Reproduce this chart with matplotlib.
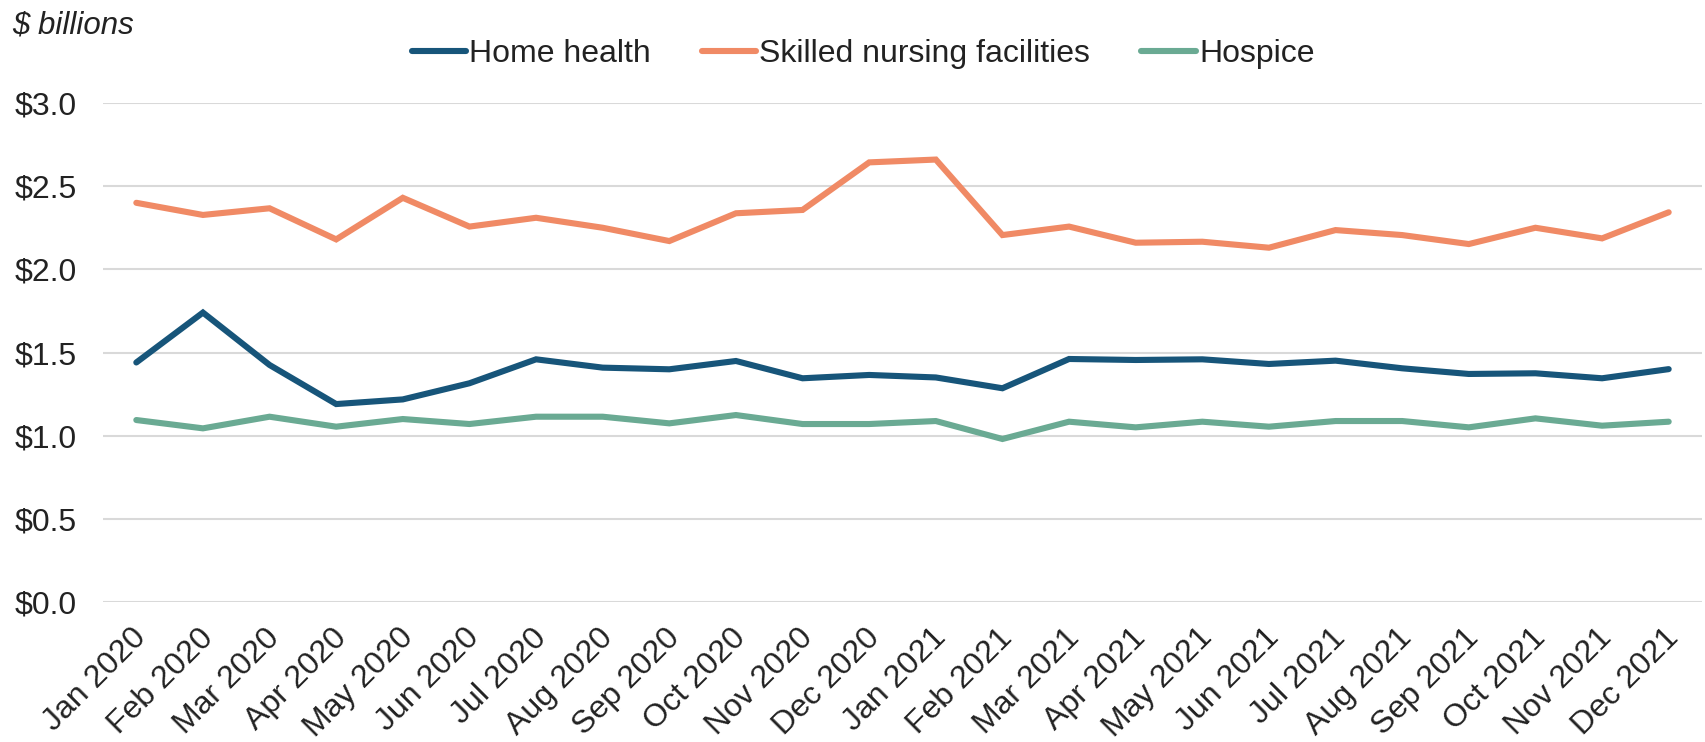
import matplotlib
matplotlib.use("Agg")
import matplotlib.pyplot as plt
from matplotlib.transforms import ScaledTranslation

plt.rcParams['font.family'] = ['Liberation Sans', 'DejaVu Sans']

months = ["Jan 2020", "Feb 2020", "Mar 2020", "Apr 2020", "May 2020", "Jun 2020",
          "Jul 2020", "Aug 2020", "Sep 2020", "Oct 2020", "Nov 2020", "Dec 2020",
          "Jan 2021", "Feb 2021", "Mar 2021", "Apr 2021", "May 2021", "Jun 2021",
          "Jul 2021", "Aug 2021", "Sep 2021", "Oct 2021", "Nov 2021", "Dec 2021"]

home_health = [1.44, 1.74, 1.425, 1.19, 1.218, 1.315, 1.459, 1.409, 1.399, 1.449, 1.345, 1.365,
               1.35, 1.285, 1.461, 1.455, 1.459, 1.431, 1.451, 1.405, 1.371, 1.375, 1.345, 1.40]
snf = [2.40, 2.327, 2.367, 2.18, 2.43, 2.257, 2.31, 2.25, 2.17, 2.337, 2.357, 2.643,
       2.66, 2.206, 2.257, 2.16, 2.166, 2.13, 2.236, 2.206, 2.152, 2.25, 2.186, 2.343]
hospice = [1.094, 1.044, 1.114, 1.054, 1.10, 1.07, 1.114, 1.114, 1.074, 1.124, 1.07, 1.07,
           1.088, 0.98, 1.084, 1.05, 1.084, 1.054, 1.088, 1.088, 1.05, 1.104, 1.06, 1.084]

yticks = [0.0, 0.5, 1.0, 1.5, 2.0, 2.5, 3.0]
ytick_labels = ["$0.0", "$0.5", "$1.0", "$1.5", "$2.0", "$2.5", "$3.0"]

fig = plt.figure(figsize=(17.06, 7.42), dpi=100)
ax = fig.add_axes([103/1706, 1 - 602/742, (1702 - 103)/1706, (602 - 103)/742])

x = list(range(len(months)))
lw = 4.4
l1, = ax.plot(x, home_health, color="#17557A", lw=lw, solid_capstyle="round", solid_joinstyle="miter", label="Home health", zorder=3)
l2, = ax.plot(x, snf, color="#F08A65", lw=lw, solid_capstyle="round", solid_joinstyle="miter", label="Skilled nursing facilities", zorder=3)
l3, = ax.plot(x, hospice, color="#6AAA93", lw=lw, solid_capstyle="round", solid_joinstyle="miter", label="Hospice", zorder=3)

ax.set_xlim(-0.5, len(months) - 0.5)
ax.set_ylim(0, 3.0)
ax.set_yticks(yticks)
ax.set_yticklabels(ytick_labels)
ax.set_xticks(x)
ax.set_xticklabels(months, rotation=45, ha="right", rotation_mode="anchor")

ax.grid(axis="y", color="#D9D9D9", lw=1.5, zorder=0)
ax.set_axisbelow(True)
for s in ax.spines.values():
    s.set_visible(False)
ax.tick_params(axis="both", length=0, labelsize=23, colors="#222222")
ax.tick_params(axis="y", pad=19)
ax.tick_params(axis="x", pad=15)
for lab in ax.get_xticklabels():
    lab.set_transform(lab.get_transform() + ScaledTranslation(-5/100, 0, fig.dpi_scale_trans))

fig.text(12/1706, 1 - 33/742, "$ billions", fontsize=22.5, style="italic", color="#222222",
         ha="left", va="baseline")

leg = fig.legend(handles=[l1, l2, l3], loc="center", bbox_to_anchor=(863/1706, 1 - 54/742),
                 ncol=3, frameon=False, fontsize=23, handlelength=1.7, handletextpad=0.1,
                 columnspacing=1.6, borderaxespad=0)
for t in leg.get_texts():
    t.set_color("#222222")

fig.savefig("out.png", dpi=100)
